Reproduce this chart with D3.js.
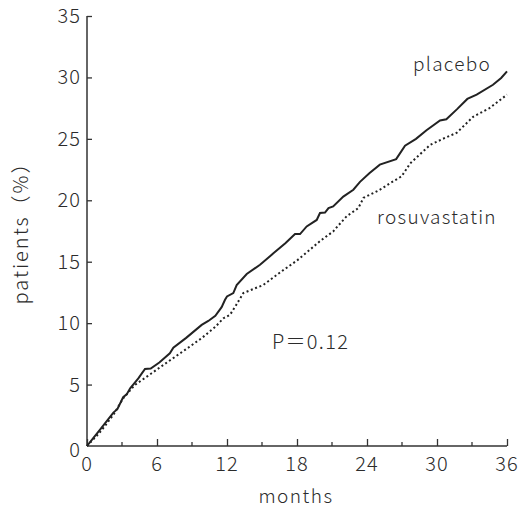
<!DOCTYPE html>
<html>
<head>
<meta charset="utf-8">
<script src="https://cdn.jsdelivr.net/npm/d3@7"></script>
<style>
  body { margin: 0; background: #fff; }
  text { font-family: "Noto Sans CJK JP", "Noto Sans", sans-serif; font-weight: 300; fill: #2b2b2b; }
</style>
</head>
<body>
<div id="chart"></div>
<script>
// Data (cumulative % of patients vs months)
const placeboMonths = [0, 0.5, 1, 1.54, 2.26, 2.6, 3.1, 3.4, 3.7, 4.4, 4.97, 5.46, 6.2, 7.1, 7.4, 8.5, 9.83, 10.4, 11.0, 11.54, 11.83, 12.0, 12.54, 12.83, 13.69, 14.83, 16.0, 17.0, 17.83, 18.26, 18.83, 19.69, 19.97, 20.4, 20.7, 21.1, 21.97, 22.83, 23.4, 24.2, 25.1, 26.5, 27.26, 28.2, 29.1, 30.26, 30.8, 31.7, 32.6, 33.4, 34.8, 35.5, 36];
const placeboValues = [0, 0.6, 1.2, 1.85, 2.72, 3.0, 3.97, 4.2, 4.7, 5.5, 6.27, 6.3, 6.8, 7.55, 8.0, 8.8, 9.86, 10.18, 10.6, 11.3, 11.9, 12.17, 12.45, 13.1, 14.0, 14.75, 15.7, 16.5, 17.25, 17.25, 17.87, 18.4, 18.96, 19.0, 19.37, 19.5, 20.3, 20.86, 21.5, 22.2, 22.9, 23.35, 24.45, 25.0, 25.7, 26.5, 26.6, 27.4, 28.25, 28.6, 29.4, 29.96, 30.5];

const rosuMonths = [0, 0.5, 1, 1.54, 2.3, 3.1, 4.1, 5.54, 7, 8.4, 9.83, 11, 11.7, 12.26, 12.8, 13.4, 15.1, 16.8, 18, 19.1, 20, 21.1, 21.5, 22.26, 23.26, 23.7, 25, 26, 26.97, 27.7, 29.4, 30.5, 31.7, 33.1, 34.5, 36];
const rosuValues = [0, 0.5, 1.0, 1.63, 2.6, 3.88, 4.97, 5.92, 6.9, 7.82, 8.78, 9.7, 10.4, 10.68, 11.5, 12.45, 13.1, 14.3, 15.1, 15.97, 16.7, 17.46, 17.9, 18.7, 19.37, 20.2, 20.8, 21.4, 21.95, 23.0, 24.5, 25.0, 25.5, 26.8, 27.5, 28.6];

const xMajorTicks = [0, 6, 12, 18, 24, 30, 36];
const xMinorTicks = [3, 9, 15, 21, 27, 33];
const yTicks = [0, 5, 10, 15, 20, 25, 30, 35];

// Layout
const width = 520, height = 509;
const x0 = 87, x1 = 507, yTop = 16, yBottom = 446;
const axisColor = "#333";
const lineColor = "#222";

const svg = d3.select("#chart").append("svg")
  .attr("width", width)
  .attr("height", height);

const x = d3.scaleLinear().domain([0, 36]).range([x0, x1]);
const y = d3.scaleLinear().domain([0, 35]).range([yBottom, yTop]);

// X axis: ticks point inward (up)
const xAxis = svg.append("g").attr("transform", `translate(0,${yBottom})`);
xAxis.call(d3.axisBottom(x).tickValues(xMajorTicks).tickSize(-7).tickFormat(""));
xAxis.call(g => g.selectAll(".tick line").attr("stroke", axisColor).attr("stroke-width", 1.3));
xAxis.select(".domain").attr("d", `M${x0},0H${x1}`).attr("stroke", axisColor).attr("stroke-width", 1.5);
xAxis.selectAll(".minor")
  .data(xMinorTicks)
  .enter()
  .append("line")
  .attr("class", "minor")
  .attr("x1", d => x(d)).attr("x2", d => x(d))
  .attr("y1", 0).attr("y2", -4)
  .attr("stroke", axisColor).attr("stroke-width", 1.3);
xAxis.selectAll("text.xlab")
  .data(xMajorTicks)
  .enter()
  .append("text")
  .attr("class", "xlab")
  .attr("x", d => x(d))
  .attr("y", 25)
  .attr("text-anchor", "middle")
  .attr("font-size", "20px")
  .attr("letter-spacing", "1px")
  .text(d => d);

// Y axis: ticks point inward (right)
const yAxis = svg.append("g").attr("transform", `translate(${x0},0)`);
yAxis.call(d3.axisLeft(y).tickValues(yTicks.filter(d => d > 0)).tickSize(-5).tickFormat(""));
yAxis.call(g => g.selectAll(".tick line").attr("stroke", axisColor).attr("stroke-width", 1.3));
yAxis.select(".domain").attr("d", `M0,${yTop}V${yBottom}`).attr("stroke", axisColor).attr("stroke-width", 1.5);
yAxis.selectAll("text.ylab")
  .data(yTicks)
  .enter()
  .append("text")
  .attr("class", "ylab")
  .attr("x", -6)
  .attr("y", d => y(d) + (d === 0 ? 11 : 7))
  .attr("text-anchor", "end")
  .attr("font-size", "20px")
  .attr("letter-spacing", "1px")
  .text(d => d);

// Axis titles
svg.append("text")
  .attr("x", 296).attr("y", 503)
  .attr("text-anchor", "middle")
  .attr("font-size", "19px")
  .attr("letter-spacing", "1.5px")
  .text("months");

svg.append("text")
  .attr("transform", "translate(28,228) rotate(-90)")
  .attr("text-anchor", "middle")
  .attr("font-size", "20px")
  .attr("letter-spacing", "2px")
  .text("patients（%）");

// Curves
const line = d3.line()
  .x(d => x(d[0]))
  .y(d => y(d[1]));

svg.append("path")
  .datum(d3.zip(placeboMonths, placeboValues))
  .attr("d", line)
  .attr("fill", "none")
  .attr("stroke", lineColor)
  .attr("stroke-width", 2);

svg.append("path")
  .datum(d3.zip(rosuMonths, rosuValues))
  .attr("d", line)
  .attr("fill", "none")
  .attr("stroke", lineColor)
  .attr("stroke-width", 2)
  .attr("stroke-dasharray", "2,2.6");

// Labels
svg.append("text")
  .attr("x", 413).attr("y", 71)
  .attr("font-size", "19px")
  .attr("letter-spacing", "1.3px")
  .text("placebo");

svg.append("text")
  .attr("x", 377).attr("y", 224)
  .attr("font-size", "19px")
  .attr("letter-spacing", "1.3px")
  .text("rosuvastatin");

svg.append("text")
  .attr("x", 272).attr("y", 349)
  .attr("font-size", "20px")
  .attr("letter-spacing", "1.3px")
  .text("P＝0.12");
</script>
</body>
</html>
